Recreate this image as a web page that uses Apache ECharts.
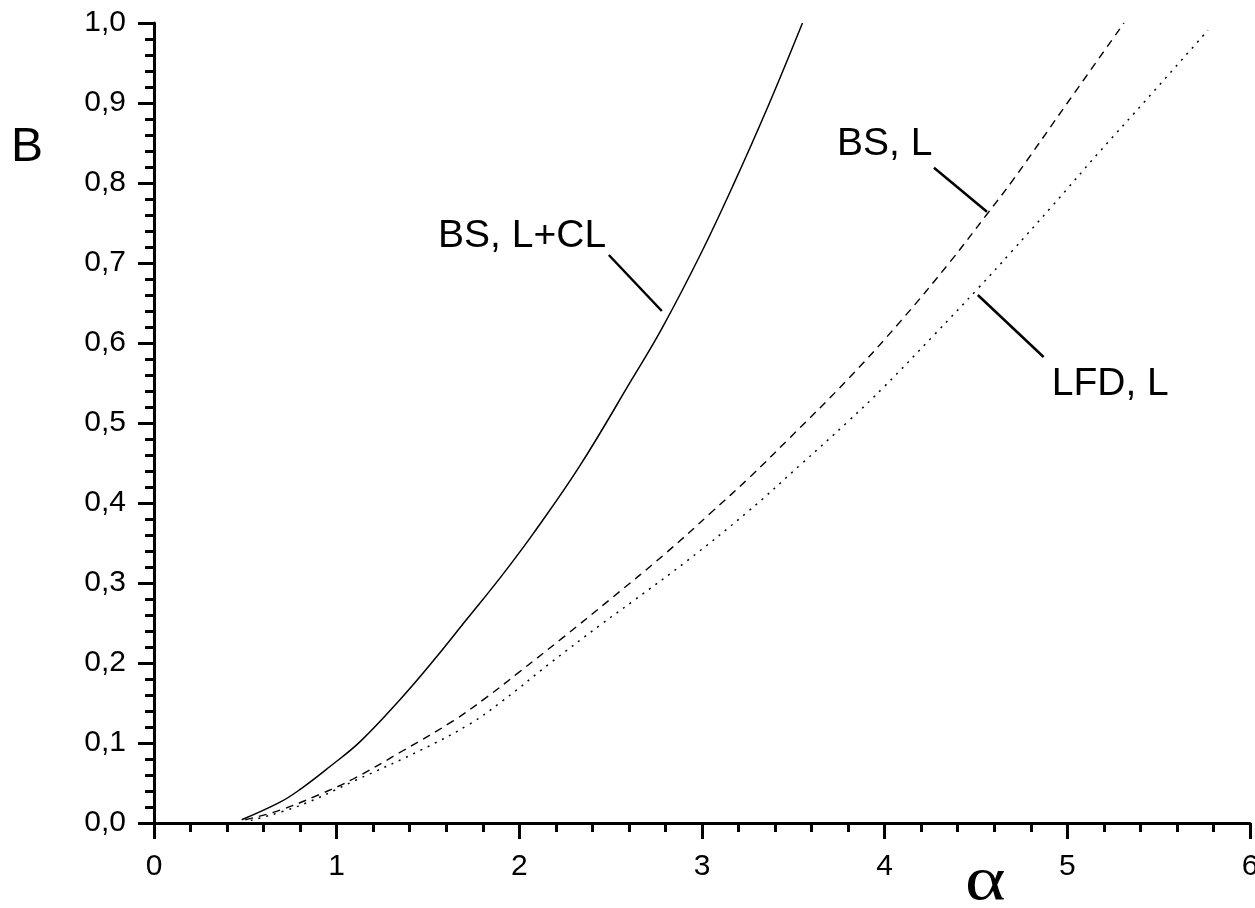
<!DOCTYPE html>
<html style="height: 100%">
<head>
    <meta charset="utf-8">
    <script src="https://cdn.jsdelivr.net/npm/echarts@6/dist/echarts.min.js"></script>
</head>
<body style="height: 100%; margin: 0; background: #fff">
<div id="container" style="width: 1255px; height: 908px"></div>

<script type="text/javascript">
    // curves: [alpha, B]
    var bsLCL = [
        [0.48, 0.004], [0.69, 0.026], [0.80, 0.042], [0.96, 0.070], [1.13, 0.102],
        [1.35, 0.155], [1.53, 0.203], [1.71, 0.254], [1.90, 0.308], [2.08, 0.363],
        [2.33, 0.446], [2.62, 0.556], [2.78, 0.618], [2.99, 0.710], [3.17, 0.797],
        [3.36, 0.895], [3.55, 1.0]
    ];
    var bsL = [
        [0.50, 0.004], [0.69, 0.016], [0.91, 0.036], [1.09, 0.055], [1.36, 0.090],
        [1.64, 0.128], [1.82, 0.157], [1.99, 0.187], [2.24, 0.232], [2.51, 0.282],
        [2.79, 0.335], [3.05, 0.388], [3.26, 0.432], [3.47, 0.479], [3.80, 0.555],
        [4.09, 0.628], [4.36, 0.702], [4.56, 0.761], [4.70, 0.803], [5.00, 0.90],
        [5.31, 1.0]
    ];
    var lfdL = [
        [0.53, 0.003], [0.80, 0.022], [1.10, 0.053], [1.46, 0.091], [1.73, 0.124],
        [1.91, 0.153], [2.17, 0.200], [2.44, 0.247], [2.62, 0.277], [2.92, 0.328],
        [3.25, 0.389], [3.54, 0.448], [3.80, 0.502], [4.00, 0.546], [4.27, 0.610],
        [4.51, 0.668], [4.69, 0.713], [4.92, 0.772], [5.18, 0.840], [5.44, 0.906],
        [5.77, 0.991]
    ];

    // annotation texts, where they sit, and their leader lines (data coords)
    var labelText = ['BS, L+CL', 'BS, L', 'LFD, L'];
    var labelAt = [[2.015, 0.733], [4.0, 0.848], [5.235, 0.5485]];
    var leaderFrom = [[2.49, 0.710], [4.27, 0.819], [4.87, 0.5825]];
    var leaderTo = [[2.78, 0.640], [4.56, 0.764], [4.51, 0.660]];

    var xTicks = [0, 1, 2, 3, 4, 5, 6];

    var dom = document.getElementById("container");
    var myChart = echarts.init(dom, null, {renderer: 'canvas'});
    var font = 'Liberation Sans';

    var axisCommon = {
        axisLine: {show: true, lineStyle: {color: '#000', width: 3}},
        axisTick: {show: true, inside: false, length: 16, lineStyle: {color: '#000', width: 3}},
        minorTick: {show: true, splitNumber: 5, length: 9, lineStyle: {color: '#000', width: 3}},
        splitLine: {show: false}
    };

    var labelData = labelText.map(function (t, i) {
        return [labelAt[i][0], labelAt[i][1], t];
    });

    function leader(i) {
        return [{coord: leaderFrom[i]}, {coord: leaderTo[i]}];
    }

    var leaderStyle = {
        silent: true,
        symbol: 'none',
        label: {show: false},
        lineStyle: {color: '#000', width: 2.5, type: 'solid'},
        animation: false
    };

    option = {
        animation: false,
        backgroundColor: '#fff',
        grid: {left: 154, right: 5, top: 23, bottom: 85, containLabel: false, outerBoundsMode: 'none'},
        xAxis: Object.assign({
            type: 'value',
            min: xTicks[0],
            max: xTicks[xTicks.length - 1],
            interval: 1,
            axisLabel: {
                margin: 29,
                color: '#000',
                fontFamily: font,
                fontSize: 30,
                showMaxLabel: true
            }
        }, axisCommon),
        yAxis: Object.assign({
            type: 'value',
            min: 0,
            max: 1,
            interval: 0.1,
            axisLabel: {
                margin: 28,
                color: '#000',
                fontFamily: font,
                fontSize: 30,
                formatter: function (v) {
                    return v.toFixed(1).replace('.', ',');
                }
            }
        }, axisCommon),
        graphic: [
            {
                type: 'text', left: 11, top: 124,
                style: {text: 'B', font: '48px "Liberation Sans"', fill: '#000'}
            },
            {
                type: 'text', left: 965, top: 852, scaleX: 1.25,
                style: {text: 'α', font: '62px "Liberation Serif"', fill: '#000'}
            }
        ],
        series: [
            {
                name: 'BS, L+CL',
                type: 'line',
                data: bsLCL,
                smooth: 0.4,
                symbol: 'none',
                lineStyle: {color: '#000', width: 1.5, type: 'solid'},
                markLine: Object.assign({data: [leader(0)]}, leaderStyle)
            },
            {
                name: 'BS, L',
                type: 'line',
                data: bsL,
                smooth: 0.4,
                symbol: 'none',
                lineStyle: {color: '#000', width: 1.4, type: [8, 6]},
                markLine: Object.assign({data: [leader(1)]}, leaderStyle)
            },
            {
                name: 'LFD, L',
                type: 'line',
                data: lfdL,
                smooth: 0.4,
                symbol: 'none',
                lineStyle: {color: '#000', width: 1.5, type: [2, 6]},
                markLine: Object.assign({data: [leader(2)]}, leaderStyle)
            },
            {
                name: 'labels',
                type: 'scatter',
                data: labelData,
                symbolSize: 0,
                silent: true,
                itemStyle: {color: '#000', opacity: 1},
                label: {
                    show: true,
                    position: 'inside',
                    color: '#000',
                    opacity: 1,
                    textBorderWidth: 0,
                    fontFamily: font,
                    fontSize: 39,
                    formatter: function (p) { return p.value[2]; }
                }
            }
        ]
    };

    if (option && typeof option === "object") {
        myChart.setOption(option, true);
    }
</script>
</body>
</html>
